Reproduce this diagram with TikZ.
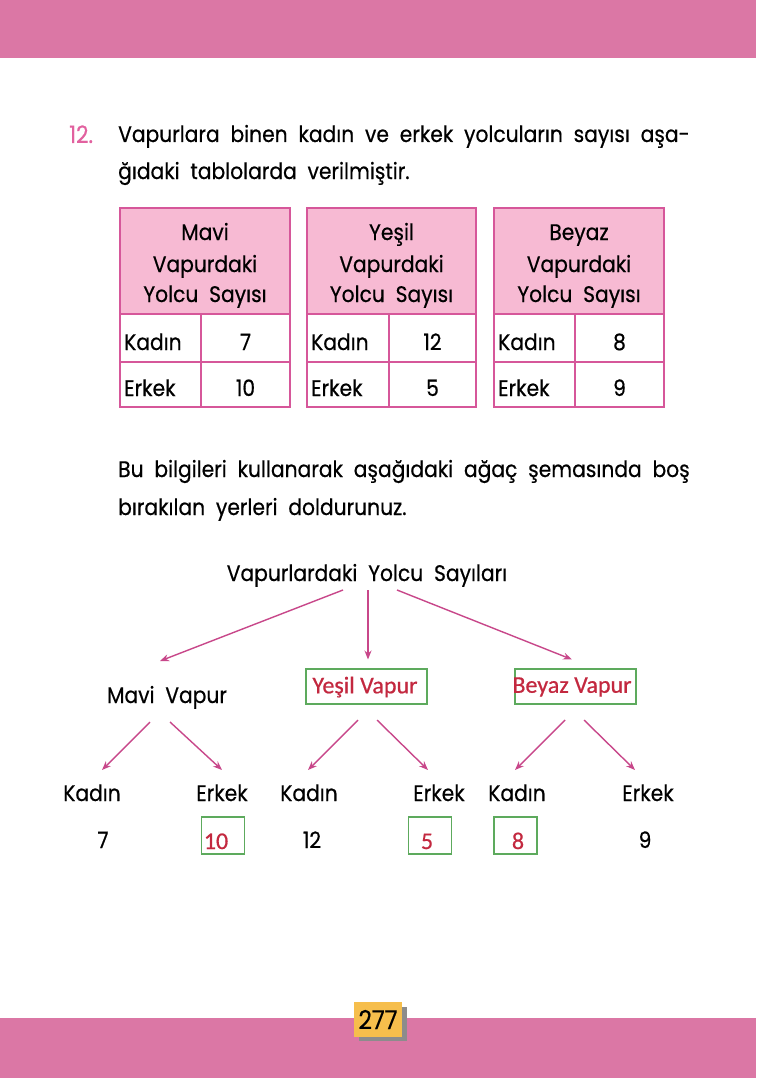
\documentclass[tikz,border=0pt]{standalone}
\usepackage{fontspec}
\setmainfont{Poppins}[FakeStretch=0.9, WordSpace=2.0, FakeBold=0.5]
\newfontfamily\calib{Carlito}[FakeBold=0.6]
\usetikzlibrary{arrows.meta,calc}
\definecolor{barpink}{HTML}{DB77A5}
\definecolor{tabfill}{HTML}{F7BAD3}
\definecolor{tabline}{HTML}{D6579A}
\definecolor{numpink}{HTML}{E2619F}
\definecolor{arrcol}{HTML}{C8478A}
\definecolor{boxgreen}{HTML}{5DAA5D}
\definecolor{ansred}{HTML}{C3283F}
\definecolor{pgorange}{HTML}{F6BE4C}
\newcommand{\mytable}[7]{%
  \fill[tabfill] (#1,208) rectangle (#3,314);
  \draw[tabgrid] (#1,208) rectangle (#3,407);
  \draw[tabgrid] (#1,314) -- (#3,314) (#1,362) -- (#3,362) (#2,314) -- (#2,407);
  \node[txt,anchor=base] (#7h1) at ({(#1+#3)/2},240) {#4};
  \node[txt,anchor=base] (#7h2) at ({(#1+#3)/2},272) {Vapurdaki};
  \node[txt,anchor=base] (#7h3) at ({(#1+#3)/2},302) {Yolcu Sayısı};
  \node[txt,anchor=base west] (#7k) at ({#1+4},350) {Kadın};
  \node[txt,anchor=base west] (#7e) at ({#1+4},396) {Erkek};
  \node[txt,anchor=base] (#7kv) at ({(#2+#3)/2},350) {#5};
  \node[txt,anchor=base] (#7ev) at ({(#2+#3)/2},396) {#6};
}
\begin{document}
\begin{tikzpicture}[x=1pt,y=-1pt,
  txt/.style={inner sep=0pt, font=\fontsize{22.5}{26}\selectfont},
  tabgrid/.style={draw=tabline, line width=1.8pt},
  arr/.style={draw=arrcol, line width=1.4pt, -{Stealth[length=9pt,width=7pt]}},
  gbox/.style={draw=boxgreen, line width=1.3pt, minimum width=121pt, minimum height=35pt, inner sep=0pt},
  gtxt/.style={text=ansred, font=\calib\fontsize{24}{27}\selectfont, inner sep=0pt},
  ansbox/.style={draw=boxgreen, line width=1.3pt, minimum width=43pt, minimum height=37pt, inner sep=0pt},
  anstxt/.style={text=ansred, font=\calib\fontsize{24}{26}\selectfont, inner sep=0pt, anchor=base}]
\useasboundingbox (0,0) rectangle (756,1078);
\fill[white] (0,0) rectangle (756,1078);
\fill[barpink] (0,0) rectangle (756,58);
\fill[barpink] (0,1018) rectangle (756,1078);
% question
\node[txt,anchor=base west,text=numpink,font=\fontsize{24}{26}\selectfont] (qnum) at (69,143) {12.};
\node[txt,anchor=base west] (q1) at (118,142) {Vapurlara binen kadın ve erkek yolcuların sayısı aşa-};
\node[txt,anchor=base west] (q2) at (118,179) {ğıdaki tablolarda verilmiştir.};
% tables
\mytable{120}{201}{290}{Mavi}{7}{10}{ta}
\mytable{307}{389}{476}{Yeşil}{12}{5}{tb}
\mytable{494}{575}{664}{Beyaz}{8}{9}{tc}
% instruction
\node[txt,anchor=base west] (p1) at (118,477) {Bu bilgileri kullanarak aşağıdaki ağaç şemasında boş};
\node[txt,anchor=base west] (p2) at (118,515) {bırakılan yerleri doldurunuz.};
% tree
\node[txt,anchor=base] (root) at (367,581) {Vapurlardaki Yolcu Sayıları};
\node[txt,anchor=base] (mavi) at (167,703) {Mavi Vapur};
\node[gbox] (yesil) at (366.5,686.5) {};
\node[gtxt] (yesilt) at (365,687) {Yeşil Vapur};
\node[gbox] (beyaz) at (575.5,686.5) {};
\node[gtxt] (beyazt) at (572,687) {Beyaz Vapur};
\node[txt,anchor=base] (k1) at (92,801) {Kadın};
\node[txt,anchor=base] (e1) at (222,801) {Erkek};
\node[txt,anchor=base] (k2) at (309,801) {Kadın};
\node[txt,anchor=base] (e2) at (439,801) {Erkek};
\node[txt,anchor=base] (k3) at (517,801) {Kadın};
\node[txt,anchor=base] (e3) at (648,801) {Erkek};
\node[txt,anchor=base] (n1) at (103,848) {7};
\node[ansbox] (b2) at (223,835.5) {};
\node[anstxt] (n2) at (216,849) {10};
\node[txt,anchor=base] (n3) at (312,848) {12};
\node[ansbox] (b4) at (430,835.5) {};
\node[anstxt] (n4) at (427,849) {5};
\node[ansbox] (b5) at (515.5,835.5) {};
\node[anstxt] (n5) at (518,849) {8};
\node[txt,anchor=base] (n6) at (645,848) {9};
\draw[arr] ($(root.base)+(-24,9)$) -- ($(mavi.base)+(-7,-42)$);
\draw[arr] ($(root.base)+(1,9)$) -- ($(yesil.center)+(1.5,-27)$);
\draw[arr] ($(root.base)+(30,9)$) -- ($(beyaz.center)+(-3.5,-27)$);
\draw[arr] ($(mavi.base)+(-17,19)$) -- ($(k1.base)+(10,-31)$);
\draw[arr] ($(mavi.base)+(3,19)$) -- ($(e1.base)+(0,-31)$);
\draw[arr] ($(yesil.center)+(-8.5,33.5)$) -- ($(k2.base)+(-1,-31)$);
\draw[arr] ($(yesil.center)+(10.5,33.5)$) -- ($(e2.base)+(-11,-31)$);
\draw[arr] ($(beyaz.center)+(-10.5,33.5)$) -- ($(k3.base)+(-2,-31)$);
\draw[arr] ($(beyaz.center)+(8.5,33.5)$) -- ($(e3.base)+(-13,-31)$);
% page number
\fill[black!45] (359,1007) rectangle (407,1041);
\node[fill=pgorange, minimum width=48pt, minimum height=35pt, inner sep=0pt, font=\fontsize{26}{28}\selectfont] (pg) at (378,1019.5) {277};
\end{tikzpicture}
\end{document}
